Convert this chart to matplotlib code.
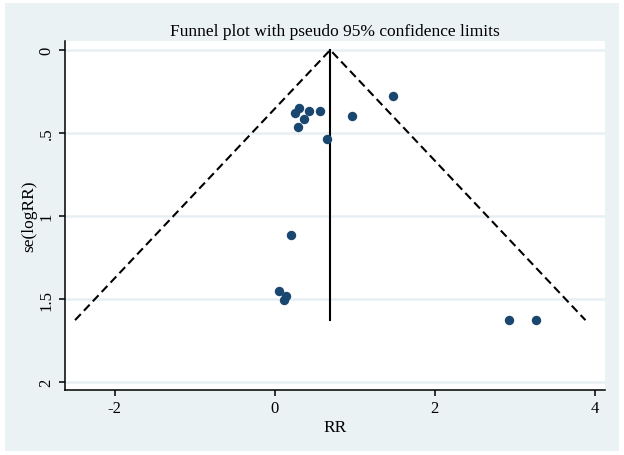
import numpy as np
import matplotlib.pyplot as plt
from matplotlib.patches import Rectangle

# study estimates
rr = [1.477, 0.97, 0.566, 0.433, 0.308, 0.258, 0.368, 0.288, 0.661,
      0.204, 0.059, 0.139, 0.114, 2.935, 3.27]
se = [0.275, 0.40, 0.367, 0.367, 0.351, 0.377, 0.418, 0.466, 0.534,
      1.114, 1.454, 1.48, 1.506, 1.627, 1.627]
pooled = 0.696
se_max = 1.627

xticks = [-2, 0, 2, 4]
yticks = [0, 0.5, 1, 1.5, 2]
yticklabels = ['0', '.5', '1', '1.5', '2']

plt.rcParams['font.family'] = ['Liberation Serif', 'DejaVu Serif']

fig = plt.figure(figsize=(6.24, 4.56), dpi=100)
fig.patch.set_facecolor('white')
fig.patches.append(Rectangle((5 / 624, 4 / 456), 614 / 624, 448 / 456,
                             transform=fig.transFigure, facecolor='#eaf2f3',
                             edgecolor='none', zorder=-10))

ax = fig.add_axes([0.104, 0.1432, 0.8656, 0.7654])
ax.set_zorder(1)
ax.set_facecolor('white')

for t in yticks:
    ax.axhline(t, color='#e6eff2', lw=1.8, zorder=1)

# pseudo 95% confidence limits
ax.plot([pooled - 1.96 * se_max, pooled, pooled + 1.96 * se_max],
        [se_max, 0, se_max], color='black', lw=1.5, ls=(0, (4, 2.2)), zorder=2)
ax.plot([pooled, pooled], [0, se_max], color='black', lw=1.5, zorder=2)

ax.scatter(rr, se, s=46, color='#1a476f', zorder=3, linewidths=0)

ax.set_xlim(-2.62, 4.13)
ax.set_ylim(2.046, -0.056)
ax.set_xticks(xticks)
ax.set_xticklabels(['-2', '0', '2', '4'])
ax.set_yticks(yticks)
ax.set_yticklabels(yticklabels, rotation=90, va='center')

for s in ['top', 'right']:
    ax.spines[s].set_visible(False)
for s in ['left', 'bottom']:
    ax.spines[s].set_linewidth(1.1)
ax.tick_params(direction='out', length=4.5, width=1.1, labelsize=12, pad=3)

ax.set_xlabel('RR', fontsize=12.5, labelpad=2)
ax.set_ylabel('se(logRR)', fontsize=12.5, labelpad=1)
ax.set_title('Funnel plot with pseudo 95% confidence limits', fontsize=12.5, pad=4)

fig.savefig('out.png', dpi=100, facecolor=fig.get_facecolor())
